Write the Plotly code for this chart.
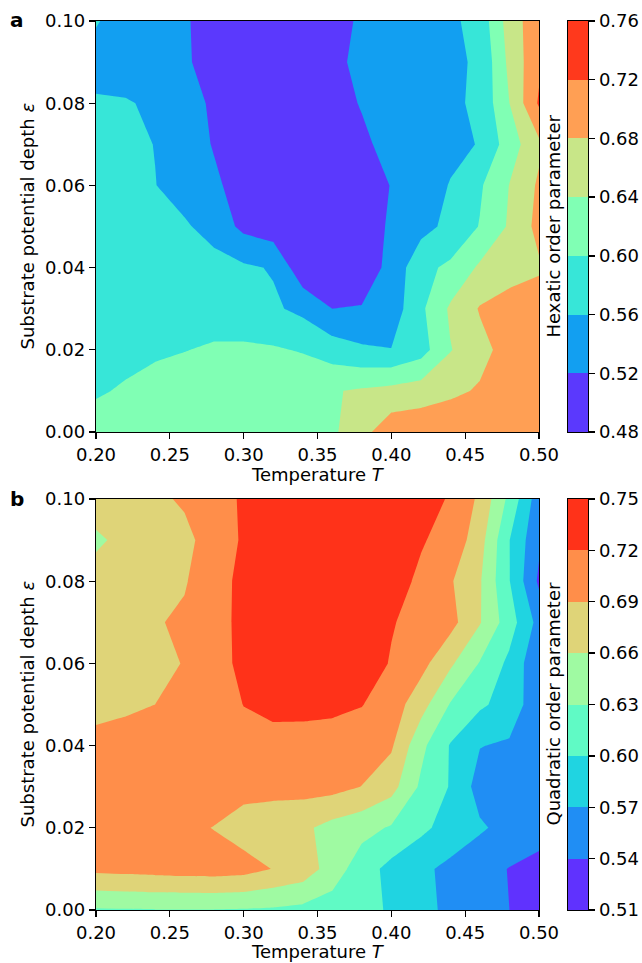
import plotly.graph_objects as go

# ---------------- data ----------------
T = [0.20, 0.22, 0.24, 0.26, 0.28, 0.30, 0.32, 0.34, 0.36, 0.38, 0.40, 0.42, 0.44, 0.46, 0.48, 0.50]
EPS = [0.00, 0.01, 0.02, 0.03, 0.04, 0.05, 0.06, 0.07, 0.08, 0.09, 0.10]

# Hexatic order parameter, rows = EPS, columns = T
hex_z = [
    [0.612, 0.615, 0.618, 0.620, 0.622, 0.624, 0.627, 0.632, 0.633, 0.667, 0.705, 0.708, 0.710, 0.712, 0.712, 0.712],
    [0.597, 0.603, 0.612, 0.617, 0.620, 0.622, 0.625, 0.630, 0.637, 0.645, 0.652, 0.660, 0.672, 0.684, 0.695, 0.705],
    [0.588, 0.592, 0.595, 0.599, 0.604, 0.606, 0.604, 0.597, 0.580, 0.566, 0.561, 0.583, 0.638, 0.668, 0.695, 0.705],
    [0.592, 0.593, 0.592, 0.588, 0.584, 0.576, 0.566, 0.550, 0.520, 0.522, 0.538, 0.592, 0.646, 0.683, 0.695, 0.700],
    [0.590, 0.588, 0.585, 0.580, 0.574, 0.566, 0.557, 0.492, 0.488, 0.500, 0.530, 0.590, 0.607, 0.6465, 0.665, 0.675],
    [0.590, 0.584, 0.575, 0.565, 0.545, 0.510, 0.498, 0.493, 0.494, 0.505, 0.524, 0.546, 0.571, 0.602, 0.645, 0.692],
    [0.585, 0.574, 0.561, 0.543, 0.525, 0.508, 0.497, 0.493, 0.496, 0.505, 0.521, 0.540, 0.562, 0.595, 0.641, 0.686],
    [0.582, 0.572, 0.559, 0.535, 0.518, 0.505, 0.496, 0.495, 0.502, 0.514, 0.530, 0.541, 0.550, 0.562, 0.620, 0.672],
    [0.563, 0.562, 0.556, 0.530, 0.516, 0.503, 0.497, 0.499, 0.508, 0.522, 0.534, 0.543, 0.552, 0.568, 0.640, 0.725],
    [0.550, 0.547, 0.536, 0.524, 0.508, 0.498, 0.495, 0.500, 0.512, 0.528, 0.538, 0.545, 0.553, 0.565, 0.650, 0.712],
    [0.562, 0.548, 0.538, 0.523, 0.508, 0.500, 0.497, 0.500, 0.510, 0.524, 0.535, 0.543, 0.552, 0.575, 0.658, 0.707],
]

# Quadratic order parameter, rows = EPS, columns = T
quad_z = [
    [0.627, 0.628, 0.629, 0.629, 0.629, 0.628, 0.626, 0.622, 0.616, 0.608, 0.597, 0.578, 0.564, 0.555, 0.540, 0.525],
    [0.697, 0.699, 0.701, 0.703, 0.704, 0.701, 0.689, 0.678, 0.646, 0.614, 0.591, 0.576, 0.563, 0.550, 0.539, 0.530],
    [0.700, 0.702, 0.701, 0.697, 0.689, 0.677, 0.673, 0.666, 0.650, 0.640, 0.627, 0.607, 0.588, 0.574, 0.560, 0.553],
    [0.703, 0.705, 0.707, 0.708, 0.708, 0.700, 0.699, 0.701, 0.700, 0.6895, 0.671, 0.625, 0.598, 0.558, 0.550, 0.548],
    [0.700, 0.702, 0.704, 0.706, 0.708, 0.710, 0.712, 0.713, 0.712, 0.705, 0.694, 0.638, 0.598, 0.571, 0.566, 0.553],
    [0.680, 0.685, 0.690, 0.696, 0.705, 0.7205, 0.726, 0.725, 0.724, 0.721, 0.706, 0.672, 0.628, 0.605, 0.588, 0.550],
    [0.674, 0.679, 0.684, 0.691, 0.707, 0.728, 0.737, 0.741, 0.742, 0.735, 0.718, 0.700, 0.665, 0.628, 0.593, 0.546],
    [0.677, 0.683, 0.688, 0.694, 0.710, 0.727, 0.735, 0.740, 0.742, 0.737, 0.722, 0.710, 0.700, 0.662, 0.614, 0.560],
    [0.672, 0.676, 0.681, 0.688, 0.706, 0.729, 0.736, 0.740, 0.741, 0.738, 0.729, 0.716, 0.693, 0.663, 0.601, 0.535],
    [0.655, 0.668, 0.677, 0.686, 0.697, 0.725, 0.733, 0.737, 0.738, 0.736, 0.730, 0.722, 0.712, 0.672, 0.6005, 0.545],
    [0.675, 0.680, 0.687, 0.692, 0.707, 0.724, 0.732, 0.736, 0.738, 0.737, 0.734, 0.729, 0.718, 0.684, 0.622, 0.553],
]

hex_levels = [0.48, 0.52, 0.56, 0.60, 0.64, 0.68, 0.72, 0.76]
quad_levels = [0.51, 0.54, 0.57, 0.60, 0.63, 0.66, 0.69, 0.72, 0.75]

hex_colors = ["#5b39fd", "#129ff1", "#37e6d8", "#80ffb4", "#c8e688", "#ff9f54", "#ff391c"]
quad_colors = ["#6032fe", "#208ef4", "#20d4e1", "#60fac5", "#9ffaa2", "#dfd478", "#ff8e4a", "#ff3219"]

x_ticks = [0.20, 0.25, 0.30, 0.35, 0.40, 0.45, 0.50]
y_ticks = [0.00, 0.02, 0.04, 0.06, 0.08, 0.10]

# ---------------- layout geometry ----------------
W, H = 642, 963
FONT = "DejaVu Sans"
FS = 18


def px_x(p):
    return p / W


def px_y(p):
    return 1 - p / H


x_dom = [px_x(96), px_x(539)]
cb_dom = [px_x(568), px_x(588)]
top_dom = [px_y(432), px_y(21)]
bot_dom = [px_y(910), px_y(499)]


def step_scale(levels, colors):
    n = len(levels)  # number of contour levels -> n+1 regions
    ext = [colors[0]] + list(colors) + [colors[-1]]
    scale = []
    for j, c in enumerate(ext):
        lo = max(0.0, (j - 0.5) / n)
        hi = min(1.0, (j + 0.5) / n)
        scale.append([lo, c])
        scale.append([hi, c])
    return scale


def contour(z, levels, colors, xa, ya):
    return go.Contour(
        x=T, y=EPS, z=z,
        autocontour=False,
        contours=dict(start=levels[0], end=levels[-1], size=round(levels[1] - levels[0], 4),
                      coloring="fill", showlines=False),
        line=dict(width=0, smoothing=0),
        colorscale=step_scale(levels, colors),
        showscale=False, hoverinfo="skip",
        xaxis=xa, yaxis=ya,
    )


def cbar(levels, colors, xa, ya):
    return go.Bar(
        x=[0] * (len(levels) - 1),
        y=[round(levels[k + 1] - levels[k], 4) for k in range(len(levels) - 1)],
        base=levels[:-1],
        width=1,
        marker=dict(color=colors, line=dict(width=0)),
        hoverinfo="skip", showlegend=False,
        xaxis=xa, yaxis=ya,
    )


fig = go.Figure()
fig.add_trace(contour(hex_z, hex_levels, hex_colors, "x", "y"))
fig.add_trace(contour(quad_z, quad_levels, quad_colors, "x2", "y2"))
fig.add_trace(cbar(hex_levels, hex_colors, "x3", "y3"))
fig.add_trace(cbar(quad_levels, quad_colors, "x4", "y4"))

tickfont = dict(family=FONT, size=FS, color="black")
common_axis = dict(showline=True, linecolor="black", linewidth=1.3, mirror=True,
                   ticks="outside", ticklen=6, tickwidth=1.3, tickcolor="black",
                   showgrid=False, zeroline=False, tickfont=tickfont, automargin=False)

xa = dict(common_axis, domain=x_dom, range=[0.2, 0.5], tickvals=x_ticks,
          ticktext=[f"{v:.2f}" for v in x_ticks])
ya = dict(common_axis, range=[0.0, 0.1], tickvals=y_ticks,
          ticktext=[f"{v:.2f}" for v in y_ticks])

cbx = dict(domain=cb_dom, range=[-0.5, 0.5], showticklabels=False, ticks="",
           showline=True, linecolor="black", linewidth=1.3, mirror=True,
           showgrid=False, zeroline=False, fixedrange=True, automargin=False)


def cby(levels, dom, anchor):
    return dict(common_axis, domain=dom, range=[levels[0], levels[-1]], side="right",
                tickvals=levels, ticktext=[f"{v:.2f}" for v in levels], anchor=anchor)


fig.update_layout(
    width=W, height=H,
    margin=dict(l=0, r=0, t=0, b=0, autoexpand=False),
    paper_bgcolor="white", plot_bgcolor="white",
    showlegend=False, barmode="overlay", bargap=0,
    font=dict(family=FONT, size=FS, color="black"),
    xaxis=dict(xa, anchor="y"),
    yaxis=dict(ya, domain=top_dom, anchor="x"),
    xaxis2=dict(xa, anchor="y2"),
    yaxis2=dict(ya, domain=bot_dom, anchor="x2"),
    xaxis3=dict(cbx, anchor="y3"),
    yaxis3=cby(hex_levels, top_dom, "x3"),
    xaxis4=dict(cbx, anchor="y4"),
    yaxis4=cby(quad_levels, bot_dom, "x4"),
)

top_mid = (21 + 432) / 2
bot_mid = (499 + 910) / 2
ann = []


def add_text(text, x, y, angle=0, size=FS):
    ann.append(dict(text=text, x=px_x(x), y=px_y(y), xref="paper", yref="paper",
                    showarrow=False, textangle=angle, xanchor="center", yanchor="middle",
                    font=dict(family=FONT, size=size, color="black")))


add_text("<b>a</b>", 17, 20, size=20)
add_text("<b>b</b>", 17, 499, size=20)
add_text("Substrate potential depth <i>ε</i>", 27, top_mid, angle=-90)
add_text("Substrate potential depth <i>ε</i>", 27, bot_mid, angle=-90)
add_text("Temperature <i>T</i>", 317.5, 474)
add_text("Temperature <i>T</i>", 317.5, 951)
add_text("Hexatic order parameter", 553, top_mid, angle=-90)
add_text("Quadratic order parameter", 553, bot_mid, angle=-90)
fig.update_layout(annotations=ann)

fig.write_html(
    "out.html",
    config={"displayModeBar": False, "staticPlot": True},
    post_script="document.body.style.margin='0';document.body.style.padding='0';"
                "document.documentElement.style.overflow='hidden';",
)
